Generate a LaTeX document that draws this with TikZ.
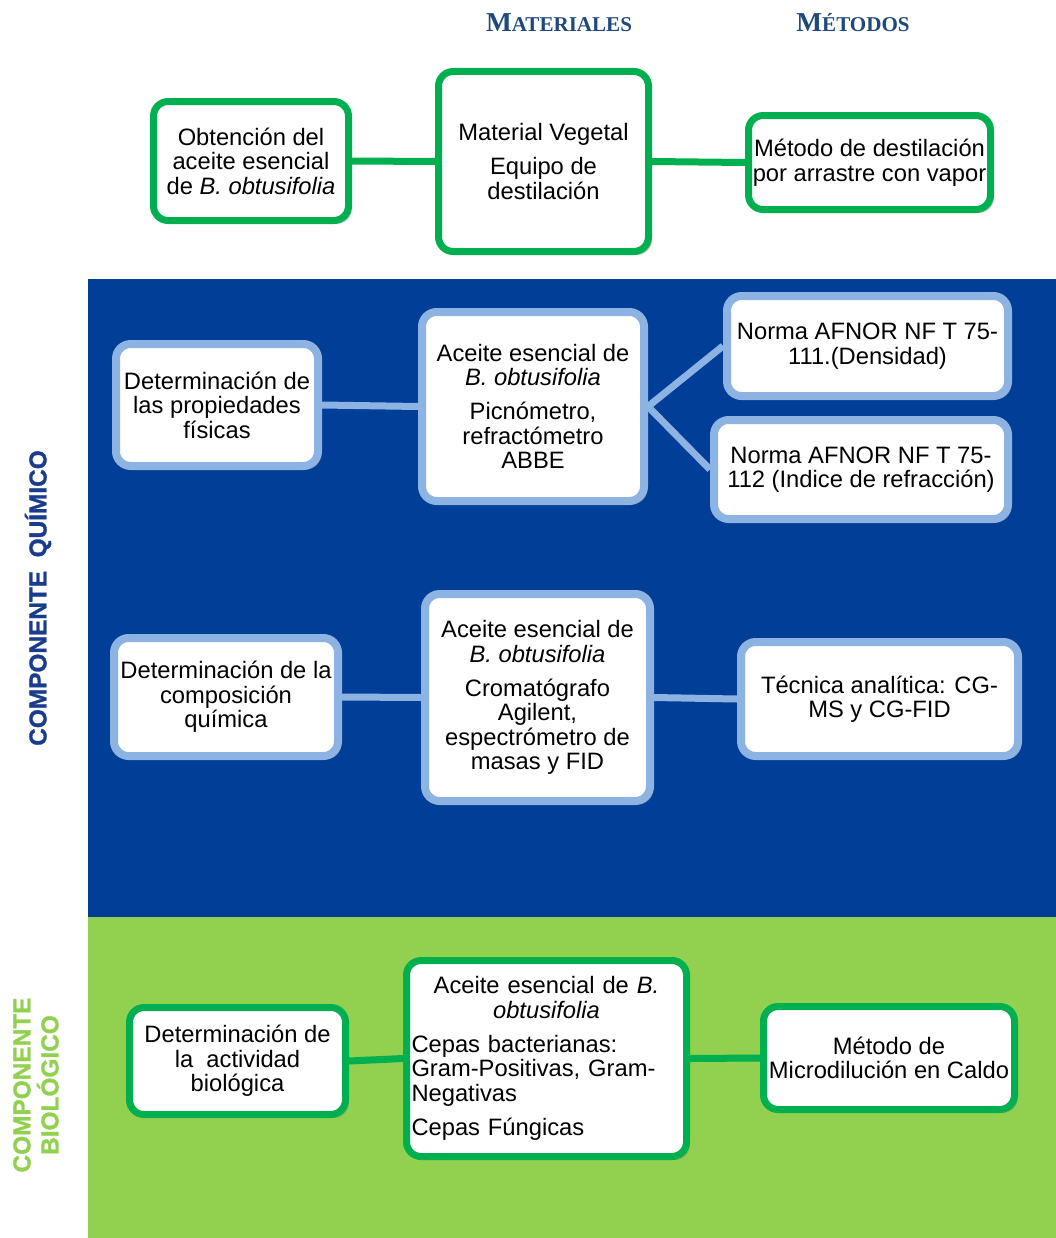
\documentclass[tikz,border=0pt]{standalone}
\usepackage{fontspec}
\setmainfont{Liberation Sans}
\newfontfamily\hdrfont{Liberation Serif}
\newfontfamily\sidefont{Liberation Sans Bold}[FakeBold=1.2]
\usetikzlibrary{shadows}
\definecolor{bandblue}{RGB}{0,62,152}
\definecolor{lblblue}{RGB}{25,60,140}
\definecolor{bandgreen}{RGB}{146,208,80}
\definecolor{boxgreen}{RGB}{0,176,80}
\definecolor{boxblue}{RGB}{141,179,226}
\definecolor{hdrblue}{RGB}{31,73,125}
\begin{document}
\begin{tikzpicture}[x=0.75pt,y=-0.75pt,
  txt/.style={font=\fontsize{17.8}{18.4}\selectfont, align=center, inner sep=0pt},
  shad/.style={drop shadow={shadow xshift=2.5pt, shadow yshift=-2.5pt, opacity=0.45}},
  gbox/.style={txt, draw=boxgreen, line width=5.25pt, fill=white, rounded corners=11pt, shad},
  bbox/.style={txt, draw=boxblue, line width=6pt, fill=white, rounded corners=11pt, shad},
  gline/.style={draw=boxgreen, line width=5.25pt},
  bline/.style={draw=boxblue, line width=5.25pt},
  hdr/.style={font=\hdrfont\bfseries, text=hdrblue, inner sep=0pt},
  side/.style={font=\sidefont\fontsize{18.3}{21}\selectfont, rotate=90, align=center, inner sep=0pt}]
\useasboundingbox (0,0) rectangle (1056,1238);
% bands
\fill[bandblue] (88,279) rectangle (1056,917);
\fill[bandgreen] (88,917) rectangle (1056,1238);
% headers
\node[hdr] (hmat) at (559,23) {{\fontsize{20.5}{20}\selectfont M}{\fontsize{15.8}{20}\selectfont ATERIALES}};
\node[hdr] (hmet) at (853,23) {{\fontsize{20.5}{20}\selectfont M}{\fontsize{15.8}{20}\selectfont ÉTODOS}};
% side labels
\node[side, text=lblblue] (lq) at (38,598) {COMPONENTE\ \ QUÍMICO};
\node[side, text=bandgreen] (lb) at (36,1085) {COMPONENTE\\BIOLÓGICO};
% top section
\node[gbox, minimum width=146.25pt, minimum height=89.25pt] (b1) at (251,161)
  {Obtención del\\aceite esencial\\de \textit{B. obtusifolia}};
\node[gbox, minimum width=157.5pt, minimum height=135pt] (b2) at (543.5,161.5)
  {Material Vegetal\\[7pt]Equipo de\\destilación};
\node[gbox, minimum width=181.5pt, minimum height=70.5pt] (b3) at (869.5,162.5)
  {Método de destilación\\por arrastre con vapor};
\draw[gline] (b1.east) -- (b2.west);
\draw[gline] (b2.east) -- (b3.west);
% physical properties
\node[bbox, minimum width=151.5pt, minimum height=91.5pt] (c1) at (217,405)
  {Determinación de\\las propiedades\\físicas};
\node[bbox, minimum width=166.5pt, minimum height=141.75pt] (c2) at (533,406.5)
  {Aceite esencial de\\\textit{B. obtusifolia}\\[7pt]Picnómetro,\\refractómetro\\ABBE};
\node[bbox, minimum width=210.75pt, minimum height=75pt] (c3) at (867.5,346)
  {Norma AFNOR NF T 75-\\111.(Densidad)};
\node[bbox, minimum width=220.5pt, minimum height=74.25pt] (c4) at (861,469.5)
  {Norma AFNOR NF T 75-\\112 (Indice de refracción)};
\draw[bline] (c1.east) -- (c2.west);
\draw[bline] (c2.east) -- (c3.west);
\draw[bline] (c2.east) -- (c4.west);
% chemical composition
\node[bbox, minimum width=168pt, minimum height=88.5pt] (d1) at (226,697)
  {Determinación de la\\composición\\química};
\node[bbox, minimum width=168.75pt, minimum height=155.25pt] (d2) at (537.5,697.5)
  {Aceite esencial de\\\textit{B. obtusifolia}\\[7pt]Cromatógrafo\\Agilent,\\espectrómetro de\\masas y FID};
\node[bbox, minimum width=207.75pt, minimum height=85.5pt] (d3) at (879.5,699)
  {Técnica analítica: CG-\\MS y CG-FID};
\draw[bline] (d1.east) -- (d2.west);
\draw[bline] (d2.east) -- (d3.west);
% biological
\node[gbox, minimum width=162pt, minimum height=80.25pt] (e1) at (237.5,1061)
  {Determinación de\\la\ \ actividad\\biológica};
\node[gbox, minimum width=210pt, minimum height=147pt, text width=202.5pt, align=left] (e2) at (546.5,1058.5)
  {{\centering Aceite esencial de \textit{B.}\\\textit{obtusifolia}\par}\vspace{7pt}Cepas bacterianas:\\Gram-Positivas, Gram-\\Negativas\par\vspace{7pt}Cepas Fúngicas};
\node[gbox, minimum width=188.25pt, minimum height=77.25pt] (e3) at (889,1058)
  {Método de\\Microdilución en Caldo};
\draw[gline] (e1.east) -- (e2.west);
\draw[gline] (e2.east) -- (e3.west);
\end{tikzpicture}
\end{document}
